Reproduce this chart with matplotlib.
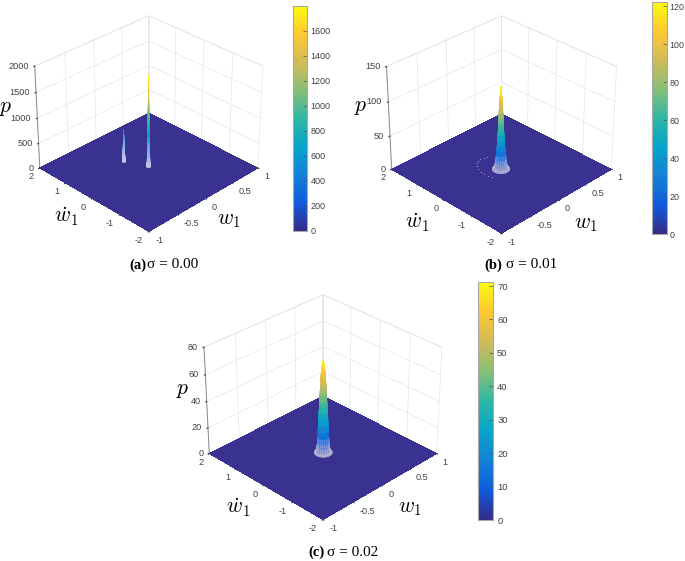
import numpy as np
import matplotlib
matplotlib.use("Agg")
import matplotlib.pyplot as plt
from matplotlib.cm import ScalarMappable
from matplotlib.colors import LinearSegmentedColormap, Normalize

W, H = 685, 561
plt.rcParams['font.family'] = ['Liberation Sans', 'DejaVu Sans']
plt.rcParams['mathtext.fontset'] = 'cm'

# parula
parula = LinearSegmentedColormap.from_list('parula', [
    '#352a87', '#0f5cdd', '#1481d6', '#06a4ca', '#2eb7a4',
    '#87bf77', '#d1bb59', '#fec832', '#f9fb0e'])

w1_ticks = [-1, -0.5, 0, 0.5, 1]
w1_labels = ['-1', '-0.5', '0', '0.5', '1']
wdot_ticks = [-2, -1, 0, 1, 2]

# panel (a): two thin spikes
a_p_ticks = [0, 500, 1000, 1500, 2000]
a_cb_ticks = [0, 200, 400, 600, 800, 1000, 1200, 1400, 1600]
a_pmax = 2000
a_cbmax = 1797
a_w1 = [0.02, -0.12]
a_wdot = [0.05, 0.68]
a_r = [[0, .001, .002, .003, .004, .005, .006, .007, .008, .009, .010, .011, .012, .013, .014, .016, .018, .020, .024, .028],
       [0, .002, .003, .004, .005, .006, .007, .008, .009, .010, .011, .012, .014, .016, .018, .020, .024]]
a_p = [[1790, 1700, 1600, 1500, 1400, 1300, 1200, 1100, 1000, 900, 800, 700, 600, 500, 400, 300, 200, 100, 30, 0],
       [650, 610, 570, 530, 490, 450, 410, 370, 330, 290, 250, 200, 150, 100, 60, 25, 0]]

# panel (b): one peak and a faint arc
b_p_ticks = [0, 50, 100, 150]
b_cb_ticks = [0, 20, 40, 60, 80, 100, 120]
b_pmax = 150
b_cbmax = 122.3
b_w1 = [0.0]
b_wdot = [0.02]
b_r = [[0, .006, .010, .014, .017, .020, .023, .026, .029, .032, .036, .040, .045, .050, .056, .062, .068, .075, .085, .098, .115]]
b_p = [[121, 116, 111, 106, 101, 96, 90, 84, 76, 68, 60, 52, 44, 36, 29, 22, 15, 9, 4, 1.5, 0]]
arc_w1 = [-.03, -.08, -.129, -.17, -.224, -.25, -.257, -.24, -.221, .02, .062]
arc_wdot = [.715, .69, .633, .54, .408, .26, .122, .01, -.097, .70, .652]
arc_p = [1, 1, 1, 1, 1, 1, 1, 1, 1, 1, 1]

# panel (c): one wider peak
c_p_ticks = [0, 20, 40, 60, 80]
c_cb_ticks = [0, 10, 20, 30, 40, 50, 60, 70]
c_pmax = 80
c_cbmax = 71.2
c_w1 = [0.02]
c_wdot = [0.03]
c_r = [[0, .008, .014, .019, .023, .027, .030, .034, .038, .042, .046, .050, .054, .058, .062, .066, .070, .075, .082, .090, .100, .115]]
c_p = [[70.5, 68, 66, 64, 62, 60, 57, 53, 49, 45, 40, 36, 31, 27, 22, 17, 12, 7.5, 4, 1.5, .5, 0]]


def px_rect(cx, cy, side):
    return [(cx - side / 2) / W, 1 - (cy + side / 2) / H, side / W, side / H]


def draw_peak(ax, x0, y0, r, p, norm, white_level):
    r = np.array(r)
    p = np.array(p, dtype=float)
    th = np.deg2rad(np.arange(0, 361, 20))
    X = x0 + np.outer(r, np.cos(th))
    Y = y0 + 2 * np.outer(r, np.sin(th))
    Z = np.outer(p, np.ones(len(th)))
    mid = 0.5 * (Z[:-1, :-1] + Z[1:, 1:])
    # faces and mesh lines go pale near the foot of the peak
    t = np.clip(1 - mid / white_level, 0, 1)[..., None]
    white = np.array([1, 1, 1, 1])
    fc = parula(norm(mid)) * (1 - 0.55 * t) + white * 0.55 * t
    surf = ax.plot_surface(X, Y, Z, facecolors=fc, shade=False, rstride=1, cstride=1,
                           linewidth=0.2, zorder=3)
    ec = fc * (1 - 0.7 * t) + white * 0.7 * t
    surf.set_edgecolor(ec.reshape(-1, 4))


def panel(rect, pmax, pticks, peaks_w1, peaks_wdot, peaks_r, peaks_p, cbmax, white_level):
    ax = fig.add_axes(rect, projection='3d')
    ax.patch.set_alpha(0)
    ax.view_init(elev=30.5, azim=-135)
    ax.set_proj_type('persp', focal_length=1.0)
    ax.set_box_aspect((1, 1, 0.75))
    ax.set_xlim(-1, 1)
    ax.set_ylim(-2, 2)
    ax.set_zlim(0, pmax)
    ax.computed_zorder = False
    norm = Normalize(0, cbmax)

    fx, fy = np.meshgrid(w1_ticks, wdot_ticks)
    ax.plot_surface(fx, fy, np.zeros_like(fx, dtype=float), color='#3a3290', shade=False,
                    linewidth=0, antialiased=False, zorder=1)
    for x0, y0, r, p in zip(peaks_w1, peaks_wdot, peaks_r, peaks_p):
        draw_peak(ax, x0, y0, r, p, norm, white_level * cbmax)

    ax.set_xticks(w1_ticks)
    ax.set_xticklabels(w1_labels)
    ax.set_yticks(wdot_ticks)
    ax.set_yticklabels(['-2', '-1', '0', '1', '2'])
    ax.set_zticks(pticks)
    ax.tick_params(labelsize=6.6, colors='#404040')
    ax.tick_params(axis='x', pad=-3)
    ax.tick_params(axis='y', pad=-3)
    ax.tick_params(axis='z', pad=-5.5)
    for lab in ax.get_xticklabels():
        lab.set(ha='left', va='center')
    for lab in ax.get_yticklabels():
        lab.set(ha='right', va='center')
    for lab in ax.get_zticklabels():
        lab.set(ha='right', va='center')
    for axis in (ax.xaxis, ax.yaxis, ax.zaxis):
        axis.set_pane_color((1, 1, 1, 1))
        axis.pane.set_edgecolor('#e2e2e2')
        axis.pane.set_linewidth(0.6)
        axis.line.set_color('#8a8a8a')
        axis.line.set_linewidth(0.7)
        axis._axinfo['grid'].update(color='#e6e6e6', linewidth=0.5)
        axis._axinfo['tick'].update(inward_factor=0.1, outward_factor=0.0)
    return ax


def colorbar(x0, x1, y0, y1, cbmax, ticks, size, pad):
    cax = fig.add_axes([x0 / W, 1 - y1 / H, (x1 - x0) / W, (y1 - y0) / H])
    cb = fig.colorbar(ScalarMappable(Normalize(0, cbmax), parula), cax=cax, ticks=ticks)
    cb.outline.set_edgecolor('#a8a8a8')
    cb.outline.set_linewidth(0.8)
    cax.tick_params(direction='in', length=3, width=0.5, color='#505050',
                    labelsize=size, labelcolor='#404040', pad=pad)


def caption(x_tag, x_sigma, y, tag, text):
    fig.text(x_tag / W, 1 - y / H, tag, family='Liberation Serif', weight='bold', size=10.5, va='center')
    fig.text(x_sigma / W, 1 - y / H, text, family='Liberation Serif', size=11, va='center')


def labels(p_xy, wdot_xy, w_xy):
    fig.text(p_xy[0] / W, 1 - p_xy[1] / H, '$p$', size=15.5, ha='center', va='center')
    fig.text(wdot_xy[0] / W, 1 - wdot_xy[1] / H, r'$\dot{w}_1$', size=15.5, ha='center', va='center')
    fig.text(w_xy[0] / W, 1 - w_xy[1] / H, '$w_1$', size=15.5, ha='center', va='center')


fig = plt.figure(figsize=(W / 100, H / 100), dpi=100)

ax_a = panel(px_rect(145.5, 121.5, 245), a_pmax, a_p_ticks, a_w1, a_wdot, a_r, a_p, a_cbmax, 0.35)
colorbar(293, 306.5, 6, 231, a_cbmax, a_cb_ticks, 6.5, 3)
labels((6, 108), (66, 217), (229, 219))
caption(129, 147, 265, '(a)', 'σ = 0.00')

ax_b = panel(px_rect(498.2, 122.4, 247), b_pmax, b_p_ticks, b_w1, b_wdot, b_r, b_p, b_cbmax, 0.2)
ax_b.scatter(arc_w1, arc_wdot, arc_p, s=0.8, c='white', alpha=0.5, linewidths=0, depthshade=False, zorder=4)
colorbar(652, 667, 2, 234, b_cbmax, b_cb_ticks, 6.4, 2)
labels((361, 107), (417, 223), (586, 223))
caption(484, 506, 265, '(b)', 'σ = 0.01')

ax_c = panel(px_rect(319.5, 405, 255.5), c_pmax, c_p_ticks, c_w1, c_wdot, c_r, c_p, c_cbmax, 0.2)
colorbar(478, 493, 282, 520, c_cbmax, c_cb_ticks, 6.8, 3)
labels((183, 390), (238, 508), (410, 508))
caption(308, 327, 552, '(c)', 'σ = 0.02')

fig.savefig('out.png', dpi=100)
